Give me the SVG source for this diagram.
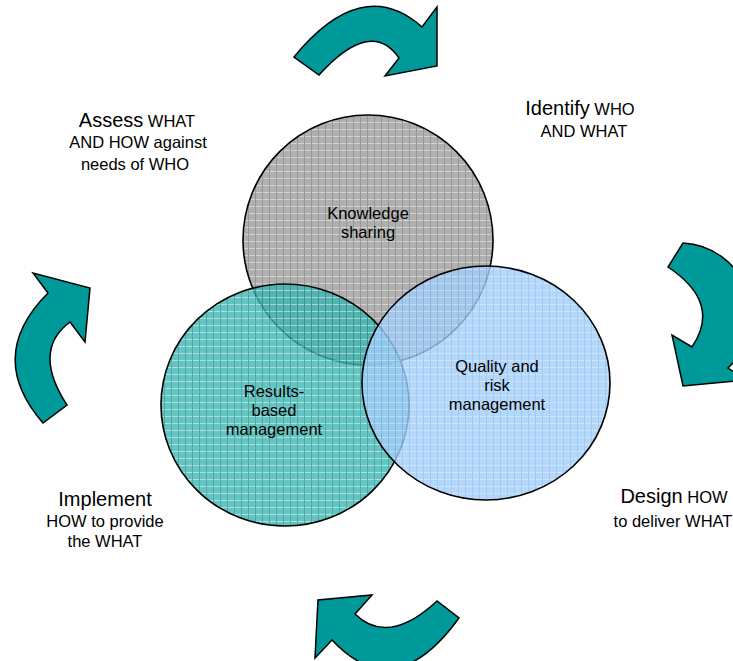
<svg xmlns="http://www.w3.org/2000/svg" width="733" height="661" viewBox="0 0 733 661">
<style>
.lbl{font-family:"Liberation Sans",Arial,sans-serif;fill:#000;text-anchor:middle}
.big{font-size:20px}
.sm{font-size:16.5px}
.arrow{fill:#009999;stroke:#000;stroke-width:1.5;stroke-linejoin:miter}
.circ{stroke:#000;stroke-width:1.6}
</style>
<defs>
<pattern id="pg" width="7" height="7" patternUnits="userSpaceOnUse">
<rect width="7" height="7" fill="#ababab"/>
<rect y="3" width="7" height="1" fill="#d0d0d0"/>
<rect x="3" width="1" height="7" fill="#919191"/>
</pattern>
<pattern id="pt" width="7" height="7" patternUnits="userSpaceOnUse">
<rect width="7" height="7" fill="#3db5b1"/>
<rect y="3" width="7" height="1" fill="#9ad9d6"/>
<rect x="3" width="1" height="7" fill="#1f9692"/>
</pattern>
<pattern id="pb" width="7" height="7" patternUnits="userSpaceOnUse">
<rect width="7" height="7" fill="#a3cdf8"/>
<rect y="3" width="7" height="1" fill="#c0defc"/>
<rect x="3" width="1" height="7" fill="#88bbf0"/>
</pattern>
</defs>
<rect width="733" height="661" fill="#fff"/>

<g id="knowledge">
<ellipse class="circ" cx="368" cy="240" rx="125" ry="125" fill="url(#pg)" fill-opacity="0.95"/>
<text class="lbl sm" x="368" y="219">Knowledge</text>
<text class="lbl sm" x="368" y="238">sharing</text>
</g>
<g id="results">
<ellipse class="circ" cx="285" cy="405" rx="124" ry="121" fill="url(#pt)" fill-opacity="0.8"/>
<text class="lbl sm" x="274" y="397">Results-</text>
<text class="lbl sm" x="274" y="416">based</text>
<text class="lbl sm" x="274" y="435">management</text>
</g>
<g id="quality">
<ellipse class="circ" cx="486" cy="383" rx="124" ry="117" fill="url(#pb)" fill-opacity="0.8"/>
<text class="lbl sm" x="497" y="372">Quality and</text>
<text class="lbl sm" x="497" y="391">risk</text>
<text class="lbl sm" x="497" y="410">management</text>
</g>

<g id="assess">
<text class="lbl" x="137" y="127"><tspan class="big">Assess</tspan><tspan class="sm"> WHAT</tspan></text>
<text class="lbl sm" x="138" y="148">AND HOW against</text>
<text class="lbl sm" x="135" y="170">needs of WHO</text>
</g>
<g id="identify">
<text class="lbl" x="580" y="115"><tspan class="big">Identify</tspan><tspan class="sm"> WHO</tspan></text>
<text class="lbl sm" x="584" y="137">AND WHAT</text>
</g>
<g id="design">
<text class="lbl" x="674" y="503"><tspan class="big">Design</tspan><tspan class="sm"> HOW</tspan></text>
<text class="lbl sm" x="673" y="527">to deliver WHAT</text>
</g>
<g id="implement">
<text class="lbl big" x="105" y="506">Implement</text>
<text class="lbl sm" x="105" y="527">HOW to provide</text>
<text class="lbl sm" x="105" y="547">the WHAT</text>
</g>

<g id="connectors">
<path class="arrow" d="M294,57 Q362,-26 422,27 L437,7 L437,66 L385,76 L399,58 Q371,17.5 319,75 Z"/>
<path class="arrow" d="M683,243 A72,72 0 0 1 728,368 L746,380 L683,386 L672,335 L692,347 Q722,303 668,267 Z"/>
<path class="arrow" d="M459,618 Q394.5,707 332,640 L315,658 L318,600 L372,595 L355,614 Q388,646.5 437,601 Z"/>
<path class="arrow" d="M43,423 Q-15,356 48,293 L33,273 L90,288 L85,342 L70,322 Q31.5,350.5 67,405 Z"/>
</g>
</svg>
